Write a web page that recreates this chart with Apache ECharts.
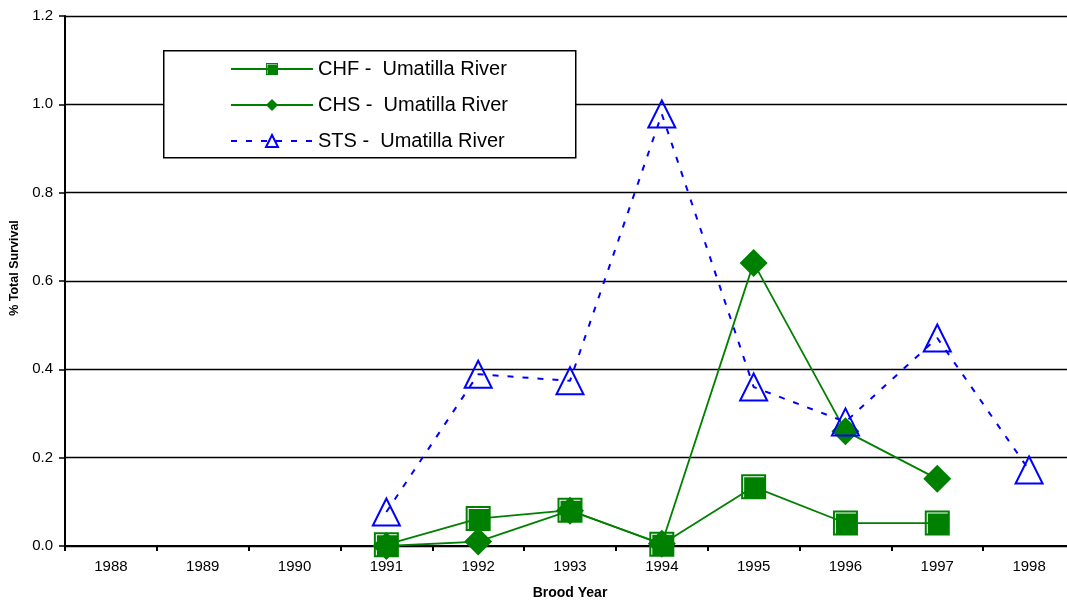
<!DOCTYPE html>
<html>
<head>
<meta charset="utf-8">
<script src="https://cdn.jsdelivr.net/npm/echarts@6/dist/echarts.min.js"></script>
<style>html,body{margin:0;padding:0;background:#fff;}#c{width:1067px;height:604px;}</style>
</head>
<body>
<div id="c"></div>
<script>
const years = ['1988','1989','1990','1991','1992','1993','1994','1995','1996','1997','1998'];
const chf = [null, null, null, 0.003, 0.062, 0.081, 0.004, 0.134, 0.052, 0.052, null];
const chs = [null, null, null, 0.0, 0.01, 0.08, 0.005, 0.641, 0.26, 0.152, null];
const sts = [null, null, null, 0.077, 0.389, 0.374, 0.978, 0.36, 0.281, 0.471, 0.172];
const yTicks = [0, 0.2, 0.4, 0.6, 0.8, 1.0, 1.2];
const names = ['CHF -  Umatilla River', 'CHS -  Umatilla River', 'STS -  Umatilla River'];

const FONT = '"Liberation Sans", Arial, sans-serif';
const GREEN = '#008000';
const BLUE = '#0000FF';
const squarePath = 'path://M0 0 L25 0 L25 25 L0 25 Z M2 2 L2 23 L3 23 L3 3 L23 3 L23 2 Z';

const chart = echarts.init(document.getElementById('c'), null, {renderer: 'canvas'});
chart.setOption({
  animation: false,
  backgroundColor: '#fff',
  textStyle: {fontFamily: FONT},
  grid: {left: 65, top: 16, width: 1010, height: 530, containLabel: false, outerBoundsMode: 'none'},
  graphic: [{
    type: 'rect', left: 163, top: 50, z: 3,
    shape: {width: 412, height: 107},
    style: {fill: '#fff', stroke: '#000', lineWidth: 1.5}
  }],
  legend: {
    orient: 'vertical', left: 230, top: 58, padding: 0, z: 5,
    itemWidth: 82, itemHeight: 15, itemGap: 14,
    data: names,
    textStyle: {fontFamily: FONT, fontSize: 20, color: '#000', lineHeight: 22, padding: [0,0,0,0]}
  },
  xAxis: {
    type: 'category', data: years, boundaryGap: true,
    name: 'Brood Year', nameLocation: 'middle', nameGap: 40,
    nameTextStyle: {fontFamily: FONT, fontSize: 14, fontWeight: 'bold', color: '#000'},
    axisLine: {lineStyle: {color: '#000', width: 2}},
    axisTick: {show: true, length: 5, alignWithLabel: false, lineStyle: {color: '#000', width: 2}},
    axisLabel: {fontFamily: FONT, fontSize: 15, color: '#000', margin: 13, interval: 0},
    splitLine: {show: false}
  },
  yAxis: {
    type: 'value', min: 0, max: 1.2, interval: 0.2,
    name: '% Total Survival', nameLocation: 'middle', nameGap: 43,
    nameTextStyle: {fontFamily: FONT, fontSize: 12.5, fontWeight: 'bold', color: '#000', padding: [0, 0, 0, 26]},
    axisLine: {show: true, lineStyle: {color: '#000', width: 2}},
    axisTick: {show: true, length: 6, lineStyle: {color: '#000', width: 1.5}},
    axisLabel: {fontFamily: FONT, fontSize: 15, color: '#000', margin: 12,
      formatter: v => yTicks.some(t => Math.abs(t - v) < 1e-9) ? v.toFixed(1) : ''},
    splitLine: {show: true, lineStyle: {color: '#000', width: 1.3}}
  },
  series: [
    {
      name: names[1], type: 'line', data: chs, connectNulls: false,
      symbol: 'diamond', symbolSize: 28,
      lineStyle: {color: GREEN, width: 1.8},
      itemStyle: {color: GREEN, borderColor: GREEN, borderWidth: 0}
    },
    {
      name: names[0], type: 'line', data: chf,
      symbol: squarePath, symbolSize: 25,
      lineStyle: {color: GREEN, width: 1.8},
      itemStyle: {color: GREEN, borderWidth: 0}
    },
    {
      name: names[2], type: 'line', data: sts,
      symbol: 'triangle', symbolSize: [27, 27],
      lineStyle: {color: BLUE, width: 2, type: [6, 9]},
      itemStyle: {color: 'rgba(0,0,0,0)', borderColor: BLUE, borderWidth: 2}
    }
  ]
});
</script>
</body>
</html>
